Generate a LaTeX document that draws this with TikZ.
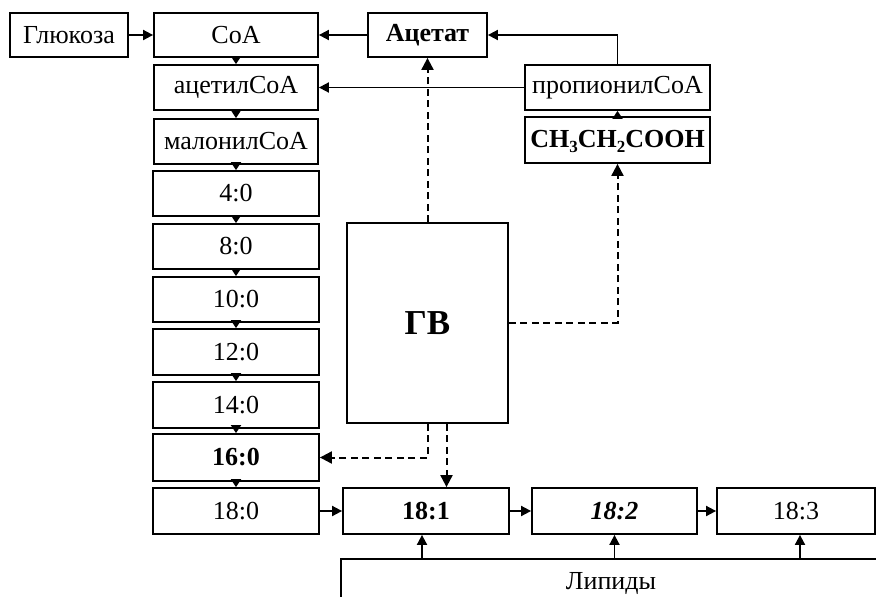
\documentclass[tikz,border=0pt]{standalone}
\usepackage{fontspec}
\setmainfont{Liberation Serif}
\usetikzlibrary{arrows.meta}
\newcommand{\chemsub}[1]{\raisebox{-5pt}{\fontsize{17pt}{17pt}\selectfont #1}}
\begin{document}
\begin{tikzpicture}[x=1pt,y=-1pt,
  bx/.style={draw,line width=1.8pt,inner sep=0pt,fill=white,font=\fontsize{26pt}{30pt}\selectfont},
  arr/.style={line width=1.8pt,-{Triangle[length=10pt,width=10pt]}},
  darr/.style={line width=2pt,dash pattern=on 7pt off 4.5pt,-{Triangle[length=12pt,width=12pt]}},
  chain/.style={line width=1.8pt,-{Triangle[length=8pt,width=10pt]}}]
\clip (0,0) rectangle (876,597);
% left column
\node[bx,minimum width=118pt,minimum height=44pt] (gluk) at (69,35) {Глюкоза};
\node[bx,minimum width=164pt,minimum height=44pt] (coa) at (236,35) {CoA};
\node[bx,minimum width=164pt,minimum height=45pt] (acetil) at (236,87.5) {ацетилCoA};
\node[bx,minimum width=164pt,minimum height=45pt] (malon) at (236,141.5) {малонилCoA};
\node[bx,minimum width=166pt,minimum height=45pt] (c40) at (236,193.5) {4:0};
\node[bx,minimum width=166pt,minimum height=45pt] (c80) at (236,246.5) {8:0};
\node[bx,minimum width=166pt,minimum height=45pt] (c100) at (236,299.5) {10:0};
\node[bx,minimum width=166pt,minimum height=46pt] (c120) at (236,352) {12:0};
\node[bx,minimum width=166pt,minimum height=46pt] (c140) at (236,405) {14:0};
\node[bx,minimum width=166pt,minimum height=47pt] (c160) at (236,457.5) {\textbf{16:0}};
\node[bx,minimum width=166pt,minimum height=46pt] (c180) at (236,511) {18:0};
% upper right
\node[bx,minimum width=119pt,minimum height=44pt] (acetat) at (427.5,35) {\textbf{Ацетат}};
\node[bx,minimum width=185pt,minimum height=45pt] (prop) at (617.5,87.5) {пропионилCoA};
\node[bx,minimum width=185pt,minimum height=46pt,text depth=2pt] (ch3) at (617.5,140) {\bfseries CH\chemsub{3}CH\chemsub{2}COOH};
\node[bx,minimum width=161pt,minimum height=200pt,font=\fontsize{35pt}{38pt}\selectfont\bfseries] (gv) at (427.5,323) {ГВ};
% bottom row
\node[bx,minimum width=166pt,minimum height=46pt] (c181) at (426,511) {\textbf{18:1}};
\node[bx,minimum width=165pt,minimum height=46pt] (c182) at (614.5,511) {\textbf{\itshape 18:2}};
\node[bx,minimum width=158pt,minimum height=46pt] (c183) at (796,511) {18:3};
\node[bx,minimum width=540pt,minimum height=48pt] (lip) at (611,583) {Липиды};
% solid arrows
\draw[arr] (gluk) -- (coa);
\draw[arr] (acetat) -- (coa);
\draw[arr] (prop.north) |- (acetat.east);
\draw[arr] (prop) -- (acetil);
\draw[chain] (ch3.north) -- (prop.south);
\draw[chain] (coa.south) -- (acetil.north);
\draw[chain] (acetil.south) -- (malon.north);
\draw[chain] (malon.south) -- (c40.north);
\draw[chain] (c40.south) -- (c80.north);
\draw[chain] (c80.south) -- (c100.north);
\draw[chain] (c100.south) -- (c120.north);
\draw[chain] (c120.south) -- (c140.north);
\draw[chain] (c140.south) -- (c160.north);
\draw[chain] (c160.south) -- (c180.north);
\draw[arr] (c180) -- (c181);
\draw[arr] (c181) -- (c182);
\draw[arr] (c182) -- (c183);
\coordinate (l1) at ([xshift=-4pt]lip.north -| c181);
\coordinate (l3) at ([xshift=4pt]lip.north -| c183);
\draw[arr] (l1) -- (l1 |- c181.south);
\draw[arr] (lip.north -| c182) -- (c182.south);
\draw[arr] (l3) -- (l3 |- c183.south);
% dashed arrows
\draw[darr] (gv.north) -- (acetat.south);
\draw[darr] (gv.east) -| (ch3.south);
\draw[darr] (gv.south) |- (c160.east);
\coordinate (g2) at ([xshift=19pt]gv.south);
\draw[darr] (g2) -- (g2 |- c181.north);
\end{tikzpicture}
\end{document}
